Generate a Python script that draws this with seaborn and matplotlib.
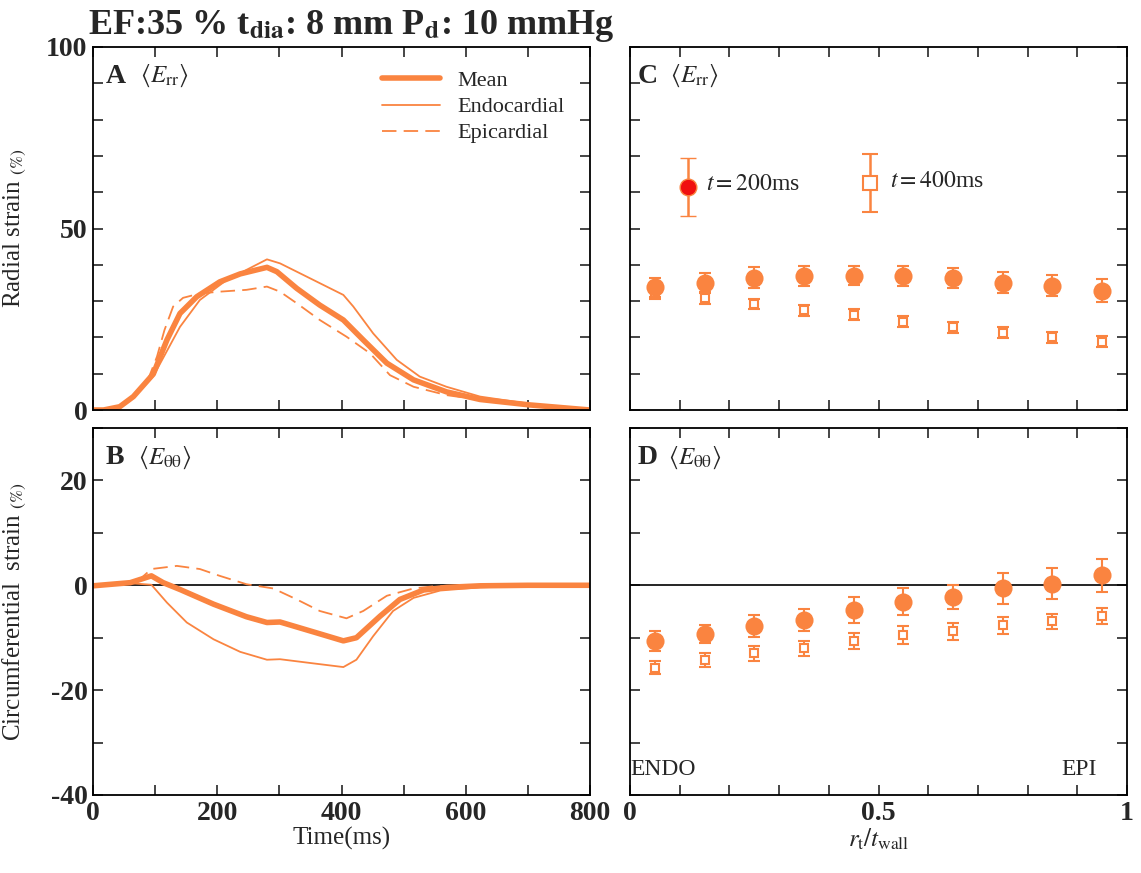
import numpy as np
import pandas as pd
import matplotlib
matplotlib.use("Agg")
import matplotlib.pyplot as plt
import seaborn as sns

# ---- radial strain vs time (panel A) ----
t_err_mean = [0, 17, 43, 65, 97, 119, 140, 167, 204, 237, 280, 296, 328, 365, 403, 435, 473, 516, 569, 623, 703, 800]
err_mean = [0, 0, 0.9, 3.7, 9.9, 19.3, 26.6, 31.2, 35.3, 37.5, 39.3, 38.1, 33.5, 28.9, 24.8, 19.3, 12.9, 8.3, 5.0, 2.9, 1.4, 0]
t_err_endo = [0, 17, 43, 65, 97, 140, 172, 215, 247, 280, 301, 355, 403, 419, 451, 489, 526, 569, 623, 703, 800]
err_endo = [0, 0, 0.8, 3.4, 9.3, 22.9, 30.3, 35.8, 38.6, 41.5, 40.4, 35.8, 31.7, 28.5, 21.1, 13.8, 9.2, 6.4, 3.7, 1.7, 0]
t_err_epi = [0, 17, 43, 65, 90, 103, 115, 129, 145, 172, 204, 247, 280, 301, 328, 365, 408, 446, 478, 516, 569, 623, 703, 800]
err_epi = [0, 0, 0.9, 3.8, 9.0, 14.7, 22.0, 28.5, 30.9, 32.1, 32.6, 33.1, 34.0, 32.6, 29.4, 24.8, 20.2, 15.6, 9.6, 6.4, 4.1, 2.8, 1.1, 0]

# ---- circumferential strain vs time (panel B) ----
t_ett_mean = [0, 60, 94, 113, 140, 194, 247, 280, 301, 355, 403, 424, 462, 494, 532, 569, 623, 700, 800]
ett_mean = [-0.1, 0.5, 1.8, 0.5, -0.8, -3.6, -6.0, -7.1, -7.0, -8.9, -10.6, -10.0, -5.9, -2.7, -0.9, -0.4, -0.1, 0, 0]
t_ett_endo = [0, 60, 94, 119, 151, 194, 237, 280, 301, 355, 403, 424, 451, 483, 516, 559, 623, 703, 800]
ett_endo = [-0.1, 0.4, 0.1, -3.3, -7.1, -10.3, -12.7, -14.2, -14.1, -14.9, -15.6, -14.2, -9.7, -4.9, -2.4, -1.0, -0.4, -0.1, 0]
t_ett_epi = [0, 60, 75, 94, 135, 172, 204, 247, 290, 328, 365, 408, 435, 473, 516, 548, 623, 800]
ett_epi = [-0.1, 0.5, 1.1, 3.1, 3.7, 3.1, 1.8, 0.2, -0.6, -2.7, -4.9, -6.3, -4.9, -2.0, -0.6, -0.2, 0, 0]

# ---- transmural profiles (panels C, D) ----
r_pos = [0.05, 0.15, 0.25, 0.35, 0.45, 0.55, 0.65, 0.75, 0.85, 0.95]
err_200 = [33.8, 35.1, 36.5, 37.0, 37.0, 36.9, 36.3, 35.1, 34.2, 32.9]
err_200_sd = [2.7, 2.7, 2.8, 2.8, 2.7, 2.8, 2.8, 2.9, 2.9, 3.1]
err_400 = [32.2, 30.8, 29.2, 27.5, 26.2, 24.3, 22.8, 21.3, 20.0, 18.8]
err_400_sd = [1.5, 1.5, 1.5, 1.5, 1.5, 1.5, 1.5, 1.5, 1.5, 1.5]
ett_200 = [-10.6, -9.35, -7.8, -6.6, -4.7, -3.1, -2.2, -0.6, 0.3, 1.9]
ett_200_sd = [1.9, 1.75, 2.1, 2.1, 2.5, 2.5, 2.3, 2.95, 3.0, 3.2]
ett_400 = [-15.7, -14.3, -13.0, -12.0, -10.6, -9.5, -8.8, -7.6, -6.9, -5.9]
ett_400_sd = [1.3, 1.3, 1.4, 1.4, 1.5, 1.65, 1.6, 1.6, 1.5, 1.5]

# key entries drawn inside panel C
key_x = [0.117, 0.483]
key_y = [61.5, 62.5]
key_sd = [8.0, 8.0]
key_text = [r"$t = 200$ms", r"$t = 400$ms"]

ORANGE = "#FA8440"
RED = "#F01010"

sns.set_theme(style="ticks")
plt.rcParams["font.family"] = ["Liberation Serif", "DejaVu Serif"]
plt.rcParams["mathtext.fontset"] = "stix"
plt.rcParams["axes.linewidth"] = 1.3

fig = plt.figure(figsize=(11.41, 8.73), dpi=100)
L1, R1 = 93 / 1141, 590 / 1141
L2, R2 = 630 / 1141, 1127 / 1141
topA, botA = 1 - 47 / 873, 1 - 410 / 873
topB, botB = 1 - 428 / 873, 1 - 795 / 873
axA = fig.add_axes([L1, botA, R1 - L1, topA - botA])
axB = fig.add_axes([L1, botB, R1 - L1, topB - botB])
axC = fig.add_axes([L2, botA, R2 - L2, topA - botA])
axD = fig.add_axes([L2, botB, R2 - L2, topB - botB])


def curve(ax, t, v, lw, ls, label=None):
    df = pd.DataFrame({"t": t, "v": v})
    sns.lineplot(data=df, x="t", y="v", ax=ax, color=ORANGE, lw=lw, ls=ls,
                 label=label, legend=False, sort=False)


curve(axA, t_err_mean, err_mean, 4.0, "-", "Mean")
curve(axA, t_err_endo, err_endo, 1.3, "-", "Endocardial")
curve(axA, t_err_epi, err_epi, 1.3, (0, (8, 4)), "Epicardial")
axB.axhline(0, color="black", lw=1.2, zorder=1)
curve(axB, t_ett_mean, ett_mean, 4.0, "-")
curve(axB, t_ett_endo, ett_endo, 1.3, "-")
curve(axB, t_ett_epi, ett_epi, 1.3, (0, (8, 4)))
axD.axhline(0, color="black", lw=1.2, zorder=1)


def profile(ax, y1, s1, y2, s2):
    ax.errorbar(r_pos, y2, yerr=s2, fmt="s", ms=6, mfc="white", mec=ORANGE, mew=1.5,
                ecolor=ORANGE, elinewidth=1.5, capsize=4, capthick=1.5, zorder=3)
    ax.errorbar(r_pos, y1, yerr=s1, fmt="none", ecolor=ORANGE, elinewidth=1.5,
                capsize=4, capthick=1.5, zorder=4)
    sns.scatterplot(x=r_pos, y=y1, ax=ax, s=170, color=ORANGE, edgecolor=ORANGE,
                    linewidth=0, zorder=5, legend=False)


profile(axC, err_200, err_200_sd, err_400, err_400_sd)
profile(axD, ett_200, ett_200_sd, ett_400, ett_400_sd)

# key in panel C
axC.errorbar([key_x[0]], [key_y[0]], yerr=[key_sd[0]], fmt="o", ms=12, mfc=RED, mec=ORANGE,
             mew=1.0, ecolor=ORANGE, elinewidth=1.8, capsize=6, capthick=1.8)
axC.errorbar([key_x[1]], [key_y[1]], yerr=[key_sd[1]], fmt="s", ms=10, mfc="white", mec=ORANGE,
             mew=1.5, ecolor=ORANGE, elinewidth=1.8, capsize=6, capthick=1.8)
axC.text(key_x[0] + 0.035, key_y[0] + 0.5, key_text[0], fontsize=17, va="center", ha="left")
axC.text(key_x[1] + 0.04, key_y[1] + 0.5, key_text[1], fontsize=17, va="center", ha="left")

# axes limits and ticks
for ax in (axA, axB):
    ax.set_xlim(0, 800)
    ax.set_xticks(np.arange(0, 801, 100))
for ax in (axC, axD):
    ax.set_xlim(0, 1)
    ax.set_xticks(np.round(np.arange(0, 1.01, 0.1), 2))
for ax in (axA, axC):
    ax.set_ylim(0, 100)
    ax.set_yticks(np.arange(0, 101, 10))
for ax in (axB, axD):
    ax.set_ylim(-40, 30)
    ax.set_yticks(np.arange(-40, 31, 10))

tickfont = dict(fontsize=20, fontweight="bold")
axA.set_xticklabels([])
axC.set_xticklabels([])
axC.set_yticklabels([])
axD.set_yticklabels([])
axA.set_yticklabels(["0" if v == 0 else ("50" if v == 50 else ("100" if v == 100 else ""))
                     for v in range(0, 101, 10)], **tickfont)
axB.set_yticklabels([str(v) if v in (-40, -20, 0, 20) else "" for v in range(-40, 31, 10)], **tickfont)
axB.set_xticklabels([str(v) if v % 200 == 0 else "" for v in range(0, 801, 100)], **tickfont)
axD.set_xticklabels(["0", "", "", "", "", "0.5", "", "", "", "", "1"], **tickfont)

for ax in (axA, axB, axC, axD):
    ax.tick_params(direction="in", length=7, width=1.2, top=True, right=True, pad=4)
    ax.set_xlabel("")
    ax.set_ylabel("")
    for s in ax.spines.values():
        s.set_visible(True)
        s.set_color("black")

axA.set_ylabel("Radial strain $_{(\\%)}$", fontsize=18)
axB.set_ylabel("Circumferential  strain $_{(\\%)}$", fontsize=18)
axA.yaxis.set_label_coords(-0.13, 0.5)
axB.yaxis.set_label_coords(-0.13, 0.5)
axB.set_xlabel("Time(ms)", fontsize=18, labelpad=1)
axD.set_xlabel(r"$r_{\rm t}/t_{\rm wall}$", fontsize=18, labelpad=1)

# panel tags
tag = dict(fontsize=20, fontweight="bold", va="center", ha="left")
E_rr = r"$\langle E_{\mathrm{rr}}\rangle$"
E_tt = r"$\langle E_{\mathrm{θθ}}\rangle$"
axA.text(0.025, 0.92, "A", transform=axA.transAxes, **tag)
axA.text(0.095, 0.92, E_rr, transform=axA.transAxes, fontsize=18, va="center")
axB.text(0.025, 0.92, "B", transform=axB.transAxes, **tag)
axB.text(0.09, 0.92, E_tt, transform=axB.transAxes, fontsize=18, va="center")
axC.text(0.015, 0.92, "C", transform=axC.transAxes, **tag)
axC.text(0.08, 0.92, E_rr, transform=axC.transAxes, fontsize=18, va="center")
axD.text(0.015, 0.92, "D", transform=axD.transAxes, **tag)
axD.text(0.077, 0.92, E_tt, transform=axD.transAxes, fontsize=18, va="center")
axD.text(0.0, 0.07, "ENDO", transform=axD.transAxes, fontsize=17, va="center", ha="left")
axD.text(0.94, 0.07, "EPI", transform=axD.transAxes, fontsize=17, va="center", ha="right")

leg = axA.legend(loc="upper right", frameon=False, fontsize=16, handlelength=2.6,
                 bbox_to_anchor=(0.99, 0.99), labelspacing=0.25)

fig.text(88 / 1141, 1 - 26 / 873, r"EF:35 % t$_{\mathbf{dia}}$: 8 mm P$_{\mathbf{d}}$: 10 mmHg",
         fontsize=26, fontweight="bold", va="center", ha="left")

fig.savefig("out.png", dpi=100)
